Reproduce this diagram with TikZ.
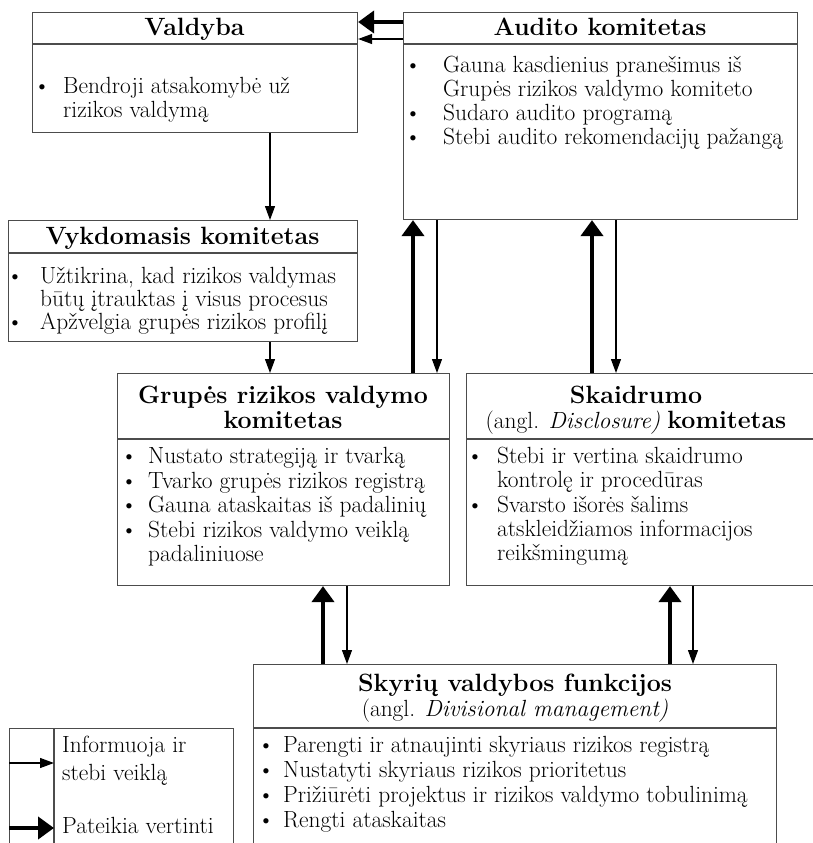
\documentclass[tikz,border=0pt]{standalone}
\usetikzlibrary{arrows.meta}
\newcommand{\bodyfont}{\fontsize{23.4}{25}\selectfont}
\newcommand{\headfont}{\fontsize{25}{27}\selectfont\bfseries}
% header line: name, x (centre), baseline y, text
\newcommand{\hdtext}[4]{\node[headtxt] (#1) at (#2,#3) {#4};}
% bullet line: name, bullet x, text x, baseline y, text
\newcommand{\bultext}[5]{\node[bulltxt] (#1b) at (#2,#4) {\textbullet};
  \node[bodytxt] (#1) at (#3,#4) {#5};}
% continuation line: name, text x, baseline y, text
\newcommand{\cnttext}[4]{\node[bodytxt] (#1) at (#2,#3) {#4};}
\begin{document}
\begin{tikzpicture}[x=1pt,y=-1pt,
  box/.style={draw=black!70, line width=1.1pt, rectangle, inner sep=0pt,
    anchor=north west},
  divider/.style={draw=black!70, line width=1.1pt},
  thinarrow/.style={draw=black, line width=1.2pt,
    -{Triangle[width=10pt,length=14pt]}},
  thickarrow/.style={draw=black, line width=4pt,
    -{Triangle[width=22pt,length=16pt]}},
  headtxt/.style={anchor=base, inner sep=0pt, font=\headfont},
  bulltxt/.style={anchor=base, inner sep=0pt, font=\bodyfont},
  bodytxt/.style={anchor=base west, inner sep=0pt, font=\bodyfont},
]
\useasboundingbox (0,0) rectangle (813,843);
\clip (0,0) rectangle (813,843);

% ---- boxes ----
\node[box, minimum width=325pt, minimum height=120pt] (valdyba) at (32,12) {};
\node[box, minimum width=394pt, minimum height=207pt] (audito) at (403,12) {};
\node[box, minimum width=349pt, minimum height=121pt] (vykd) at (8,220) {};
\node[box, minimum width=332pt, minimum height=212pt] (grupes) at (117,373) {};
\node[box, minimum width=360pt, minimum height=212pt] (skaid) at (466,373) {};
\node[box, minimum width=523pt, minimum height=210pt] (skyr) at (253,664) {};
\node[box, minimum width=224pt, minimum height=150pt] (legend) at (9,728) {};

% header dividers
\draw[divider] (valdyba.west |- 0,44) -- (valdyba.east |- 0,44);
\draw[divider] (audito.west |- 0,44) -- (audito.east |- 0,44);
\draw[divider] (vykd.west |- 0,253) -- (vykd.east |- 0,253);
\draw[divider] (grupes.west |- 0,439) -- (grupes.east |- 0,439);
\draw[divider] (skaid.west |- 0,439) -- (skaid.east |- 0,439);
\draw[divider] (skyr.west |- 0,728) -- (skyr.east |- 0,728);
\draw[divider] (legend.north -| 54,0) -- (legend.south -| 54,0);

% ---- texts ----
\hdtext{valdybaH}{194.5}{36}{Valdyba}
\bultext{va1}{42}{63}{93}{Bendroji atsakomybė už}
\cnttext{va2}{63}{117}{rizikos valdymą}

\hdtext{auditoH}{600}{36}{Audito komitetas}
\bultext{au1}{413}{443}{73}{Gauna kasdienius pranešimus iš}
\cnttext{au2}{443}{96.5}{Grupės rizikos valdymo komiteto}
\bultext{au3}{413}{443}{120}{Sudaro audito programą}
\bultext{au4}{413}{443}{144}{Stebi audito rekomendacijų pažangą}

\hdtext{vykdH}{182.5}{244}{Vykdomasis komitetas}
\bultext{vy1}{15}{40}{283}{Užtikrina, kad rizikos valdymas}
\cnttext{vy2}{40}{306}{būtų įtrauktas į visus procesus}
\bultext{vy3}{15}{40}{329}{Apžvelgia grupės rizikos profilį}

\hdtext{grupesH1}{283}{403}{Grupės rizikos valdymo}
\hdtext{grupesH2}{283}{428}{komitetas}
\bultext{gr1}{129}{148}{463}{Nustato strategiją ir tvarką}
\bultext{gr2}{129}{148}{488}{Tvarko grupės rizikos registrą}
\bultext{gr3}{129}{148}{512}{Gauna ataskaitas iš padalinių}
\bultext{gr4}{129}{148}{537}{Stebi rizikos valdymo veiklą}
\cnttext{gr5}{148}{561}{padaliniuose}

\hdtext{skaidH1}{636}{403}{Skaidrumo}
\node[bodytxt, anchor=base] (skaidH2) at (636,428)
  {(angl. \textit{Disclosure)} {\headfont komitetas}};
\bultext{sk1}{475}{497}{463}{Stebi ir vertina skaidrumo}
\cnttext{sk2}{497}{487}{kontrolę ir procedūras}
\bultext{sk3}{475}{497}{512}{Svarsto išorės šalims}
\cnttext{sk4}{497}{536}{atskleidžiamos informacijos}
\cnttext{sk5}{497}{560}{reikšmingumą}

\hdtext{skyrH1}{515}{691}{Skyrių valdybos funkcijos}
\node[bodytxt, anchor=base] (skyrH2) at (515,716)
  {(angl. \textit{Divisional management)}};
\bultext{sy1}{266}{283}{752}{Parengti ir atnaujinti skyriaus rizikos registrą}
\bultext{sy2}{266}{283}{777}{Nustatyti skyriaus rizikos prioritetus}
\bultext{sy3}{266}{283}{802}{Prižiūrėti projektus ir rizikos valdymo tobulinimą}
\bultext{sy4}{266}{283}{827}{Rengti ataskaitas}

\cnttext{lg1}{62}{752}{Informuoja ir}
\cnttext{lg2}{62}{780}{stebi veiklą}
\cnttext{lg3}{62}{833}{Pateikia vertinti}

% ---- connectors ----
\draw[thickarrow] (audito.west |- 0,22) -- (valdyba.east |- 0,22);
\draw[thinarrow]  (audito.west |- 0,39) -- (valdyba.east |- 0,39);

\draw[thinarrow] (valdyba.south -| 270,0) -- (vykd.north -| 270,0);
\draw[thinarrow] (vykd.south -| 270,0) -- (grupes.north -| 270,0);

\draw[thickarrow] (grupes.north -| 413,0) -- (audito.south -| 413,0);
\draw[thinarrow]  (audito.south -| 437,0) -- (grupes.north -| 437,0);
\draw[thickarrow] (skaid.north -| 592,0) -- (audito.south -| 592,0);
\draw[thinarrow]  (audito.south -| 616,0) -- (skaid.north -| 616,0);

\draw[thickarrow] (skyr.north -| 323,0) -- (grupes.south -| 323,0);
\draw[thinarrow]  (grupes.south -| 347,0) -- (skyr.north -| 347,0);
\draw[thickarrow] (skyr.north -| 670,0) -- (skaid.south -| 670,0);
\draw[thinarrow]  (skaid.south -| 693,0) -- (skyr.north -| 693,0);

% legend samples
\coordinate (lgA) at (legend.west |- 0,763);
\coordinate (lgB) at (legend.west |- 0,828);
\draw[thinarrow]  (lgA) -- (lgA -| 54,0);
\draw[thickarrow] (lgB) -- (lgB -| 54,0);
\end{tikzpicture}
\end{document}
